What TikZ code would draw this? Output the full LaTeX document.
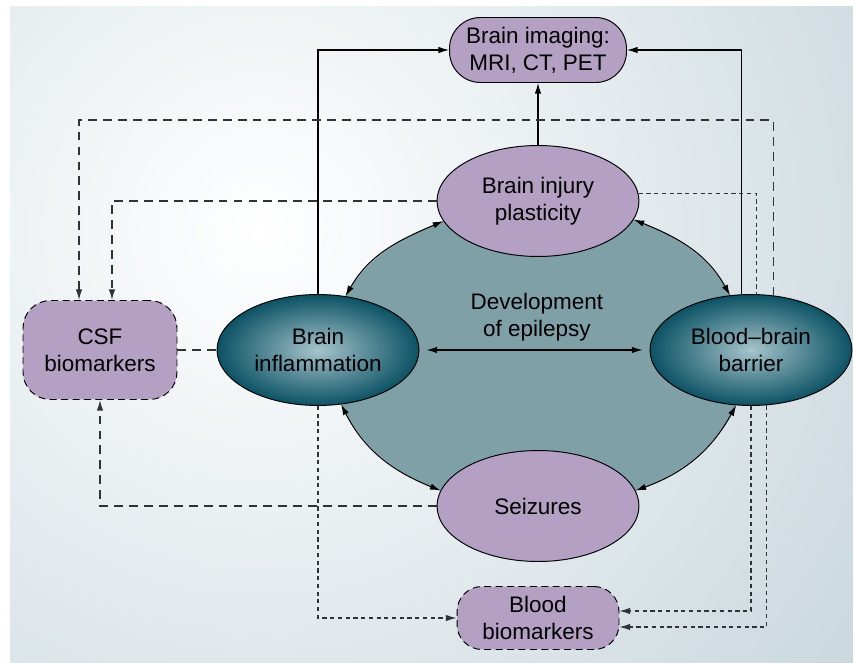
\documentclass[tikz,border=0pt]{standalone}
\usepackage{fontspec}
\setmainfont{Liberation Sans}
\usetikzlibrary{shapes.geometric,arrows.meta}
\pgfdeclarelayer{background}
\pgfsetlayers{background,main}
\definecolor{lilas}{HTML}{B4A0C3}
\definecolor{petroleo}{HTML}{0C5264}
\definecolor{petroleoclaro}{HTML}{A6C4CC}
\definecolor{miolo}{HTML}{80A0A8}
\definecolor{fundo}{HTML}{C9D7DD}
\definecolor{traco}{HTML}{2E3336}
\begin{document}
\begin{tikzpicture}[x=0.02cm,y=-0.02cm,>={Latex[length=6pt,width=3.6pt]},font=\fontsize{12.8}{15.2}\selectfont]
        %======definicao dos blocos==========%

            \tikzstyle{vertex}=[ellipse,draw,line width=0.55pt,minimum width=4.04cm,minimum height=2.22cm,inner sep=0pt,align=center]
            \tikzstyle{vertex_light}=[vertex,fill=lilas]
            \tikzstyle{vertex_dark}=[vertex,inner color=petroleoclaro,outer color=petroleo]
            \tikzstyle{box}=[rectangle,draw,line width=0.55pt,fill=lilas,inner sep=0pt,align=center]
            \tikzstyle{box_dash}=[box,dash pattern=on 4pt off 2.5pt]
            \tikzstyle{edge}=[->,line width=0.6pt]
            \tikzstyle{edge_both}=[<->,line width=0.6pt]
            \tikzstyle{edge_dash}=[line width=0.65pt,draw=traco,dash pattern=on 5pt off 3.5pt]
            \tikzstyle{edge_dot}=[line width=0.6pt,draw=traco,dash pattern=on 2.4pt off 2pt]

        %====================%%=============%

            \useasboundingbox (0,0) rectangle (853,663);

            \node[box,minimum width=3.54cm,minimum height=1.3cm,rounded corners=0.62cm](img) at (538,50) {Brain imaging:\\MRI, CT, PET};
            \node[vertex_light](inj) at (538,201) {Brain injury\\plasticity};
            \node[vertex_dark](infl) at (318,350) {Brain\\inflammation};
            \node[vertex_dark](bbb) at (751,350) {Blood--brain\\barrier};
            \node[vertex_light](seiz) at (538,506) {Seizures};
            \node[box_dash,minimum width=3.08cm,minimum height=1.98cm,rounded corners=0.55cm](csf) at (100,350) {CSF\\biomarkers};
            \node[box_dash,minimum width=3.24cm,minimum height=1.26cm,rounded corners=0.5cm](blood) at (538,618) {Blood\\biomarkers};
            \node[align=center](dev) at (537,317) {Development\\of epilepsy};
            \coordinate (topo) at (79,120);

            \begin{pgfonlayer}{background}
                \fill[white] (0,0) rectangle (853,663);
                \begin{scope}
                    \clip (10,6) rectangle (853,663);
                    \shade[inner color=white,outer color=fundo] (260,230) circle [radius=15cm];
                \end{scope}
                \fill[miolo](inj.192) to[out=203,in=60] (infl.63) -- (infl.-67) to[out=297,in=158] (seiz.171)
                    -- (seiz.9) to[out=20,in=241] (bbb.-105) -- (bbb.111) to[out=119,in=-22] (inj.-11) -- cycle;
            \end{pgfonlayer}

            \draw[edge](infl.north) |- (img.west);
            \draw[edge](bbb.100) |- (img.east);
            \draw[edge](inj) -- (img);
            \draw[edge_both,shorten <=4pt,shorten >=4pt](infl) -- (bbb);
            \draw[edge_both](inj.192) to[out=203,in=60] (infl.63);
            \draw[edge_both](inj.-11) to[out=-22,in=119] (bbb.111);
            \draw[edge_both](infl.-67) to[out=297,in=158] (seiz.171);
            \draw[edge_both](seiz.9) to[out=20,in=241] (bbb.-105);

            \draw[edge_dash,->](bbb.68) |- (topo) -- (topo |- csf.north);
            \draw[edge_dash,->](inj.west) -| ([xshift=0.24cm]csf.north);
            \draw[edge_dash](csf) -- (infl);
            \draw[edge_dash,->](seiz.west) -| (csf.south);
            \draw[edge_dot,->](infl.south) |- (blood.west);
            \draw[edge_dot](inj.4) -| (bbb.84);
            \draw[edge_dot,->](bbb.south) |- ([yshift=0.14cm]blood.east);
            \draw[edge_dot,->](bbb.-74) |- ([yshift=-0.18cm]blood.east);
        \end{tikzpicture}
\end{document}
